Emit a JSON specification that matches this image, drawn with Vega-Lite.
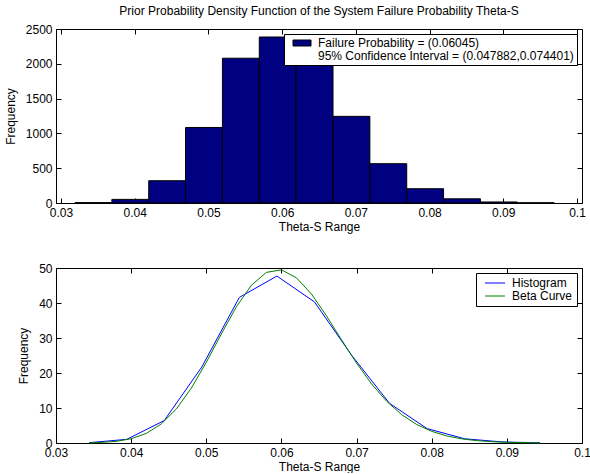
{
  "$schema": "https://vega.github.io/schema/vega-lite/v6.json",
  "background": "white",
  "padding": {"left": 3, "top": 4, "right": 0, "bottom": 0},
  "spacing": 28,
  "resolve": {"legend": {"fill": "independent", "stroke": "independent", "color": "independent"}},
  "datasets": {
    "hist": [
      {"lo": 0.0319, "hi": 0.0369, "count": 5, "series": "Failure Probability = (0.06045)"},
      {"lo": 0.0369, "hi": 0.0419, "count": 52, "series": "Failure Probability = (0.06045)"},
      {"lo": 0.0419, "hi": 0.0469, "count": 320, "series": "Failure Probability = (0.06045)"},
      {"lo": 0.0469, "hi": 0.0519, "count": 1085, "series": "Failure Probability = (0.06045)"},
      {"lo": 0.0519, "hi": 0.0569, "count": 2080, "series": "Failure Probability = (0.06045)"},
      {"lo": 0.0569, "hi": 0.0619, "count": 2385, "series": "Failure Probability = (0.06045)"},
      {"lo": 0.0619, "hi": 0.0669, "count": 2015, "series": "Failure Probability = (0.06045)"},
      {"lo": 0.0669, "hi": 0.0719, "count": 1245, "series": "Failure Probability = (0.06045)"},
      {"lo": 0.0719, "hi": 0.0769, "count": 565, "series": "Failure Probability = (0.06045)"},
      {"lo": 0.0769, "hi": 0.0819, "count": 205, "series": "Failure Probability = (0.06045)"},
      {"lo": 0.0819, "hi": 0.0869, "count": 60, "series": "Failure Probability = (0.06045)"},
      {"lo": 0.0869, "hi": 0.0919, "count": 15, "series": "Failure Probability = (0.06045)"},
      {"lo": 0.0919, "hi": 0.0969, "count": 3, "series": "Failure Probability = (0.06045)"}
    ],
    "curves": [
      {"x": 0.0344, "y": 0.1, "series": "Histogram"},
      {"x": 0.0394, "y": 1.04, "series": "Histogram"},
      {"x": 0.0444, "y": 6.4, "series": "Histogram"},
      {"x": 0.0494, "y": 21.7, "series": "Histogram"},
      {"x": 0.0544, "y": 41.6, "series": "Histogram"},
      {"x": 0.0594, "y": 47.7, "series": "Histogram"},
      {"x": 0.0644, "y": 40.3, "series": "Histogram"},
      {"x": 0.0694, "y": 24.9, "series": "Histogram"},
      {"x": 0.0744, "y": 11.3, "series": "Histogram"},
      {"x": 0.0794, "y": 4.1, "series": "Histogram"},
      {"x": 0.0844, "y": 1.2, "series": "Histogram"},
      {"x": 0.0894, "y": 0.3, "series": "Histogram"},
      {"x": 0.0944, "y": 0.06, "series": "Histogram"},
      {"x": 0.0344, "y": 0.055, "series": "Beta Curve"},
      {"x": 0.036, "y": 0.159, "series": "Beta Curve"},
      {"x": 0.038, "y": 0.471, "series": "Beta Curve"},
      {"x": 0.040, "y": 1.21, "series": "Beta Curve"},
      {"x": 0.042, "y": 2.72, "series": "Beta Curve"},
      {"x": 0.044, "y": 5.42, "series": "Beta Curve"},
      {"x": 0.046, "y": 9.68, "series": "Beta Curve"},
      {"x": 0.048, "y": 15.65, "series": "Beta Curve"},
      {"x": 0.050, "y": 23.05, "series": "Beta Curve"},
      {"x": 0.052, "y": 31.15, "series": "Beta Curve"},
      {"x": 0.054, "y": 38.88, "series": "Beta Curve"},
      {"x": 0.056, "y": 45.07, "series": "Beta Curve"},
      {"x": 0.058, "y": 48.75, "series": "Beta Curve"},
      {"x": 0.060, "y": 49.47, "series": "Beta Curve"},
      {"x": 0.062, "y": 47.19, "series": "Beta Curve"},
      {"x": 0.064, "y": 42.56, "series": "Beta Curve"},
      {"x": 0.066, "y": 36.32, "series": "Beta Curve"},
      {"x": 0.068, "y": 29.49, "series": "Beta Curve"},
      {"x": 0.070, "y": 22.82, "series": "Beta Curve"},
      {"x": 0.072, "y": 16.86, "series": "Beta Curve"},
      {"x": 0.074, "y": 11.94, "series": "Beta Curve"},
      {"x": 0.076, "y": 8.10, "series": "Beta Curve"},
      {"x": 0.078, "y": 5.29, "series": "Beta Curve"},
      {"x": 0.080, "y": 3.33, "series": "Beta Curve"},
      {"x": 0.082, "y": 2.02, "series": "Beta Curve"},
      {"x": 0.084, "y": 1.18, "series": "Beta Curve"},
      {"x": 0.086, "y": 0.672, "series": "Beta Curve"},
      {"x": 0.088, "y": 0.369, "series": "Beta Curve"},
      {"x": 0.090, "y": 0.197, "series": "Beta Curve"},
      {"x": 0.092, "y": 0.102, "series": "Beta Curve"},
      {"x": 0.094, "y": 0.051, "series": "Beta Curve"},
      {"x": 0.0944, "y": 0.045, "series": "Beta Curve"}
    ]
  },
  "vconcat": [
    {
      "width": 526,
      "height": 174,
      "title": {"text": "Prior Probability Density Function of the System Failure Probability Theta-S", "anchor": "middle", "frame": "group", "fontSize": 12, "fontWeight": "normal", "font": "Liberation Sans", "color": "black", "offset": 5},
      "data": {"name": "hist"},
      "layer": [
        {
          "mark": {"type": "bar", "strokeWidth": 1, "orient": "vertical"},
          "encoding": {
            "x": {"field": "lo", "type": "quantitative", "scale": {"domain": [0.03, 0.1], "nice": false, "zero": false},
                  "axis": {"orient": "bottom", "values": [0.03, 0.04, 0.05, 0.06, 0.07, 0.08, 0.09, 0.1], "format": ".2~f", "title": "Theta-S Range", "labelFlush": false, "labelOverlap": false}},
            "x2": {"field": "hi"},
            "y": {"field": "count", "type": "quantitative", "stack": null, "scale": {"domain": [0, 2500], "nice": false},
                  "axis": {"orient": "left", "values": [0, 500, 1000, 1500, 2000, 2500], "format": "d", "title": "Frequency", "labelOverlap": false}},
            "y2": {"datum": 0},
            "fill": {"field": "series", "type": "nominal",
                     "scale": {"domain": ["Failure Probability = (0.06045)", "95% Confidence Interval = (0.047882,0.074401)"], "range": ["#000080", "rgba(0,0,0,0)"]},
                     "legend": {"title": null, "orient": "top-right", "offset": 5, "padding": 3, "rowPadding": 1, "strokeColor": "black", "fillColor": "white", "cornerRadius": 0,
                                "symbolType": "M-1.8,-0.6H1.8V0.6H-1.8Z", "symbolSize": 100, "symbolStrokeWidth": 1, "symbolOffset": 9, "labelOffset": 10, "labelLimit": 400,
                                "labelFont": "Liberation Sans", "labelFontSize": 12, "labelColor": "black"}},
            "stroke": {"field": "series", "type": "nominal",
                       "scale": {"domain": ["Failure Probability = (0.06045)", "95% Confidence Interval = (0.047882,0.074401)"], "range": ["#000000", "rgba(0,0,0,0)"]},
                       "legend": {"title": null, "orient": "top-right", "offset": 5, "padding": 3, "rowPadding": 1, "strokeColor": "black", "fillColor": "white", "cornerRadius": 0,
                                "symbolType": "M-1.8,-0.6H1.8V0.6H-1.8Z", "symbolSize": 100, "symbolStrokeWidth": 1, "symbolOffset": 9, "labelOffset": 10, "labelLimit": 400,
                                "labelFont": "Liberation Sans", "labelFontSize": 12, "labelColor": "black"}}
          }
        },
        {
          "mark": {"type": "point", "opacity": 0},
          "encoding": {
            "x": {"field": "lo", "type": "quantitative", "scale": {"domain": [0.03, 0.1], "nice": false, "zero": false},
                  "axis": {"orient": "top", "values": [0.03, 0.04, 0.05, 0.06, 0.07, 0.08, 0.09, 0.1], "labels": false, "domain": false, "title": null}},
            "y": {"field": "count", "type": "quantitative", "scale": {"domain": [0, 2500], "nice": false},
                  "axis": {"orient": "right", "values": [0, 500, 1000, 1500, 2000, 2500], "labels": false, "domain": false, "title": null}}
          }
        }
      ]
    },
    {
      "width": 526,
      "height": 175,
      "data": {"name": "curves"},
      "layer": [
        {
          "mark": {"type": "line", "strokeWidth": 1},
          "encoding": {
            "x": {"field": "x", "type": "quantitative", "scale": {"domain": [0.03, 0.1], "nice": false, "zero": false},
                  "axis": {"orient": "bottom", "values": [0.03, 0.04, 0.05, 0.06, 0.07, 0.08, 0.09, 0.1], "format": ".2~f", "title": "Theta-S Range", "labelFlush": false, "labelOverlap": false}},
            "y": {"field": "y", "type": "quantitative", "scale": {"domain": [0, 50], "nice": false},
                  "axis": {"orient": "left", "values": [0, 10, 20, 30, 40, 50], "format": "d", "title": "Frequency", "labelOverlap": false}},
            "color": {"field": "series", "type": "nominal",
                      "scale": {"domain": ["Histogram", "Beta Curve"], "range": ["#0000FF", "#008000"]},
                      "legend": {"title": null, "orient": "top-right", "offset": 5, "padding": 4, "rowPadding": 1, "strokeColor": "black", "fillColor": "white", "cornerRadius": 0,
                                 "symbolType": "M-2,0H2", "symbolSize": 100, "symbolStrokeWidth": 1, "symbolOffset": 9, "labelOffset": 11, "labelLimit": 400,
                                 "labelFont": "Liberation Sans", "labelFontSize": 12, "labelColor": "black"}}
          }
        },
        {
          "mark": {"type": "point", "opacity": 0},
          "encoding": {
            "x": {"field": "x", "type": "quantitative", "scale": {"domain": [0.03, 0.1], "nice": false, "zero": false},
                  "axis": {"orient": "top", "values": [0.03, 0.04, 0.05, 0.06, 0.07, 0.08, 0.09, 0.1], "labels": false, "domain": false, "title": null}},
            "y": {"field": "y", "type": "quantitative", "scale": {"domain": [0, 50], "nice": false},
                  "axis": {"orient": "right", "values": [0, 10, 20, 30, 40, 50], "labels": false, "domain": false, "title": null}}
          }
        }
      ]
    }
  ],
  "config": {
    "font": "Liberation Sans",
    "view": {"stroke": "black", "strokeWidth": 1},
    "axis": {"labelFont": "Liberation Sans", "labelFontSize": 12, "labelColor": "black", "titleFont": "Liberation Sans", "titleFontSize": 12, "titleFontWeight": "normal", "titleColor": "black",
             "domainColor": "black", "tickColor": "black", "tickSize": -5, "grid": false, "labelPadding": 9, "titlePadding": 3},
    "axisLeft": {"titlePadding": 8}
  }
}
